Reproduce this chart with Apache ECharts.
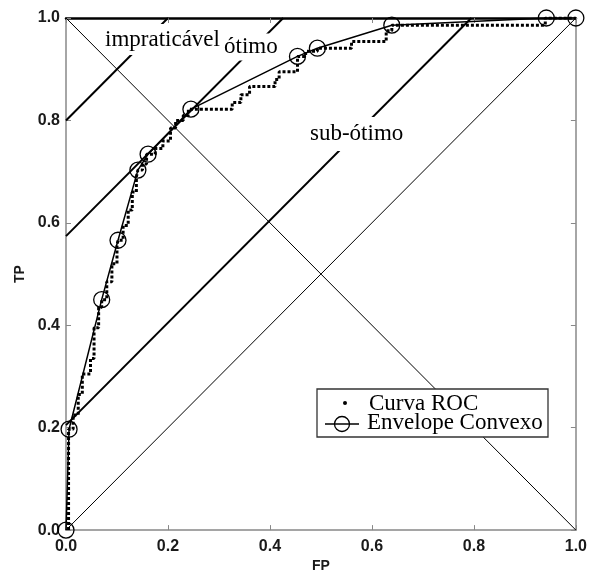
<!DOCTYPE html>
<html>
<head>
<meta charset="utf-8">
<script src="https://cdn.jsdelivr.net/npm/echarts@6/dist/echarts.min.js"></script>
<style>
html,body{margin:0;padding:0;background:#fff;}
#chart{width:590px;height:578px;}
</style>
</head>
<body>
<div id="chart"></div>
<script>
// ---- data ----
const axisTicks = [0, 0.2, 0.4, 0.6, 0.8, 1.0];

// Convex hull (Envelope Convexo) vertices
const hullFP = [0, 0.006, 0.07, 0.102, 0.141, 0.161, 0.245, 0.454, 0.493, 0.639, 0.942, 1.0];
const hullTP = [0, 0.197, 0.45, 0.566, 0.703, 0.734, 0.822, 0.925, 0.941, 0.986, 1.0, 1.0];

// ROC curve staircase corners (Curva ROC)
const rocFP = [0.005, 0.005, 0.014, 0.014, 0.024, 0.024, 0.032, 0.032, 0.048, 0.048,
  0.055, 0.055, 0.064, 0.064, 0.07, 0.07, 0.08, 0.08, 0.09, 0.09,
  0.10, 0.10, 0.102, 0.102, 0.112, 0.112, 0.122, 0.122, 0.13, 0.13,
  0.138, 0.138, 0.141, 0.141, 0.15, 0.15, 0.158, 0.158, 0.175, 0.175,
  0.19, 0.19, 0.205, 0.205, 0.215, 0.215, 0.23, 0.23, 0.24, 0.24,
  0.326, 0.326, 0.343, 0.343, 0.36, 0.36, 0.41, 0.41, 0.418, 0.418,
  0.454, 0.454, 0.47, 0.47, 0.493, 0.493, 0.56, 0.56, 0.628, 0.628,
  0.639, 0.639, 0.94, 0.94, 1.0];
const rocTP = [0.0, 0.197, 0.197, 0.225, 0.225, 0.265, 0.265, 0.305, 0.305, 0.335,
  0.335, 0.395, 0.395, 0.435, 0.435, 0.45, 0.45, 0.485, 0.485, 0.52,
  0.52, 0.555, 0.555, 0.566, 0.566, 0.595, 0.595, 0.625, 0.625, 0.66,
  0.66, 0.69, 0.69, 0.703, 0.703, 0.715, 0.715, 0.734, 0.734, 0.745,
  0.745, 0.76, 0.76, 0.785, 0.785, 0.80, 0.80, 0.81, 0.81, 0.822,
  0.822, 0.835, 0.835, 0.85, 0.85, 0.866, 0.866, 0.88, 0.88, 0.895,
  0.895, 0.925, 0.925, 0.935, 0.935, 0.941, 0.941, 0.954, 0.954, 0.975,
  0.975, 0.986, 0.986, 1.0, 1.0];

// Iso-performance lines (slope 1): start and end points
const isoStartFP = [0, 0, 0];
const isoStartTP = [0.8, 0.574, 0.205];
const isoEndFP = [0.2, 0.426, 0.795];
const isoEndTP = [1.0, 1.0, 1.0];

// Diagonals
const diagFP = [0, 1];
const diagTP = [0, 1];
const antiFP = [0, 1];
const antiTP = [1, 0];

const regionLabels = ['impraticável', 'ótimo', 'sub-ótimo'];
const legendNames = ['Curva ROC', 'Envelope Convexo'];

// ---- chart ----
const chart = echarts.init(document.getElementById('chart'), null, {renderer: 'canvas'});
const zip = (a, b) => a.map((v, i) => [v, b[i]]);

const tickFont = {color: '#1a1a1a', fontWeight: 'bold', fontSize: 16, fontFamily: 'Liberation Sans'};
const fmt = v => v.toFixed(1);

const series = [];
isoStartFP.forEach((_, i) => {
  series.push({
    type: 'line', silent: true, symbol: 'none', z: 2,
    data: [[isoStartFP[i], isoStartTP[i]], [isoEndFP[i], isoEndTP[i]]],
    lineStyle: {color: '#000', width: 2}
  });
});
series.push({type: 'line', silent: true, symbol: 'none', z: 2, data: zip(diagFP, diagTP), lineStyle: {color: '#000', width: 1}});
series.push({type: 'line', silent: true, symbol: 'none', z: 2, data: zip(antiFP, antiTP), lineStyle: {color: '#000', width: 1}});
series.push({
  name: legendNames[0], type: 'line', silent: true, symbol: 'none', z: 3,
  data: zip(rocFP, rocTP),
  lineStyle: {color: '#000', width: 3, type: [3, 2]}
});
series.push({
  name: legendNames[1], type: 'line', silent: true, z: 4,
  symbol: 'circle', symbolSize: 16, showAllSymbol: true,
  data: zip(hullFP, hullTP),
  lineStyle: {color: '#000', width: 1.5},
  itemStyle: {color: 'rgba(0,0,0,0)', borderColor: '#000', borderWidth: 1.3}
});

const serif = '23px "Liberation Serif"';
const option = {
  animation: false,
  backgroundColor: '#fff',
  grid: {left: 66, right: 12, top: 18, bottom: 42, containLabel: false},
  xAxis: [{
    type: 'value', min: 0, max: 1, interval: 0.2, position: 'bottom',
    name: 'FP', nameLocation: 'middle', nameGap: 27,
    nameTextStyle: {color: '#1a1a1a', fontWeight: 'bold', fontSize: 14, fontFamily: 'Liberation Sans'},
    axisLine: {onZero: false, lineStyle: {color: '#888', width: 1.5}},
    axisTick: {inside: true, length: 5, lineStyle: {color: '#888'}},
    axisLabel: Object.assign({formatter: fmt, margin: 8}, tickFont),
    splitLine: {show: false}
  }, {
    type: 'value', min: 0, max: 1, interval: 0.2, position: 'top',
    axisLine: {onZero: false, lineStyle: {color: '#000', width: 2.5}},
    axisTick: {inside: true, length: 5, lineStyle: {color: '#888'}},
    axisLabel: {show: false}, splitLine: {show: false}
  }],
  yAxis: [{
    type: 'value', min: 0, max: 1, interval: 0.2, position: 'left',
    name: 'TP', nameLocation: 'middle', nameGap: 36, nameRotate: 90,
    nameTextStyle: {color: '#1a1a1a', fontWeight: 'bold', fontSize: 14, fontFamily: 'Liberation Sans'},
    axisLine: {onZero: false, lineStyle: {color: '#888', width: 1.5}},
    axisTick: {inside: true, length: 5, lineStyle: {color: '#888'}},
    axisLabel: Object.assign({formatter: fmt, margin: 6}, tickFont),
    splitLine: {show: false}
  }, {
    type: 'value', min: 0, max: 1, interval: 0.2, position: 'right',
    axisLine: {onZero: false, lineStyle: {color: '#888', width: 1.5}},
    axisTick: {inside: true, length: 5, lineStyle: {color: '#888'}},
    axisLabel: {show: false}, splitLine: {show: false}
  }],
  series: series,
  graphic: [
    {type: 'text', z: 100, x: 103, y: 39.5, style: {text: regionLabels[0], font: serif, fill: '#000', verticalAlign: 'middle', backgroundColor: '#fff', padding: [3, 2], lineHeight: 25}},
    {type: 'text', z: 100, x: 222, y: 47, style: {text: regionLabels[1], font: serif, fill: '#000', verticalAlign: 'middle', backgroundColor: '#fff', padding: [2, 2], lineHeight: 23}},
    {type: 'text', z: 100, x: 308, y: 134, style: {text: regionLabels[2], font: serif, fill: '#000', verticalAlign: 'middle', backgroundColor: '#fff', padding: [4, 2], lineHeight: 26}},
    // legend
    {type: 'rect', z: 100, shape: {x: 317, y: 389, width: 231, height: 48}, style: {fill: '#fff', stroke: '#333', lineWidth: 1.3}},
    {type: 'circle', z: 101, shape: {cx: 345, cy: 403, r: 2}, style: {fill: '#000'}},
    {type: 'text', z: 101, x: 369, y: 403.5, style: {text: legendNames[0], font: serif, fill: '#000', verticalAlign: 'middle'}},
    {type: 'line', z: 101, shape: {x1: 325, y1: 424, x2: 359, y2: 424}, style: {stroke: '#000', lineWidth: 1.5}},
    {type: 'circle', z: 101, shape: {cx: 342, cy: 424, r: 7.5}, style: {fill: 'none', stroke: '#000', lineWidth: 1.3}},
    {type: 'text', z: 101, x: 367, y: 422.5, style: {text: legendNames[1], font: serif, fill: '#000', verticalAlign: 'middle'}}
  ]
};
chart.setOption(option);
</script>
</body>
</html>
